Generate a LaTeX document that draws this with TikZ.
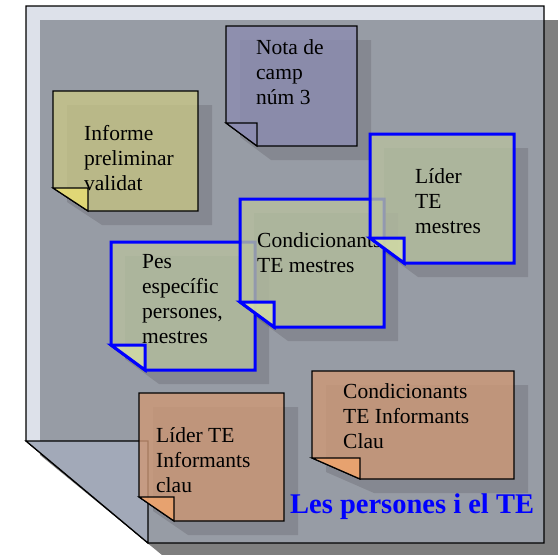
\documentclass[tikz,border=0pt]{standalone}
\usepackage{fontspec}
\setmainfont{Liberation Serif}
\usepackage{tikz}
\usetikzlibrary{backgrounds}

\definecolor{pagecol}{HTML}{B5BED1}
\definecolor{pageflap}{HTML}{A3ABBA}
\definecolor{purplenote}{HTML}{8C8CB1}
\definecolor{yellownote}{HTML}{C8C587}
\definecolor{yellowflap}{HTML}{EBE072}
\definecolor{greennote}{HTML}{B7C0A0}
\definecolor{greenflap}{HTML}{D5DEA6}
\definecolor{orangenote}{HTML}{CF9977}
\definecolor{orangeflap}{HTML}{F2A66D}

\begin{document}
\begin{tikzpicture}[x=1pt,y=-1pt,
  every node/.style={anchor=base west,inner sep=0pt,align=left,
    font=\fontsize{21.5}{25}\selectfont},
  shadow/.style={fill=black,fill opacity=0.12,draw=none,shift={(14,14)}},
  note/.style={draw=black,line width=1.2pt,fill opacity=0.8},
  bluenote/.style={draw=blue,line width=3pt,fill opacity=0.8}]

  \useasboundingbox (0,0) rectangle (558,555);

  % Specification of the page (shadow, sheet, folded corner)
  \fill[black,opacity=0.5] (40,20) -- (558,20) -- (558,555) -- (162,555) -- (40,455) -- cycle;
  \draw[fill=pagecol,fill opacity=0.46,line width=1.2pt] (26,6) -- (544,6) -- (544,543) -- (148,543) -- (26,441) -- cycle;
  \draw[fill=pageflap,fill opacity=0.9,line width=1.2pt] (26,441) -- (148,441) -- (148,543) -- cycle;

  % Nota de camp (texts sit on the baseline of their last line)
  \fill[shadow] (226,26) -- (357,26) -- (357,146) -- (257,146) -- (226,123) -- cycle;
  \draw[note,fill=purplenote] (226,26) -- (357,26) -- (357,146) -- (257,146) -- (226,123) -- cycle;
  \draw[note,fill=purplenote] (226,123) -- (257,123) -- (257,146) -- cycle;
  \node (nota) at (256,104) {Nota de\\camp\\núm 3};

  % Informe
  \fill[shadow] (53,91) -- (198,91) -- (198,211) -- (88,211) -- (53,188) -- cycle;
  \draw[note,fill=yellownote] (53,91) -- (198,91) -- (198,211) -- (88,211) -- (53,188) -- cycle;
  \draw[note,fill=yellowflap] (53,188) -- (88,188) -- (88,211) -- cycle;
  \node (informe) at (84,190) {Informe\\preliminar\\validat};

  % Pes especific
  \fill[shadow] (111,242) -- (255,242) -- (255,370) -- (145,370) -- (111,345) -- cycle;
  \draw[bluenote,fill=greennote] (111,242) -- (255,242) -- (255,370) -- (145,370) -- (111,345) -- cycle;
  \draw[bluenote,fill=greenflap] (111,345) -- (145,345) -- (145,370) -- cycle;
  \node (pes) at (142,343) {Pes\\específic\\persones,\\mestres};

  % Condicionants mestres
  \fill[shadow] (240,199) -- (384,199) -- (384,327) -- (274,327) -- (240,302) -- cycle;
  \draw[bluenote,fill=greennote] (240,199) -- (384,199) -- (384,327) -- (274,327) -- (240,302) -- cycle;
  \draw[bluenote,fill=greenflap] (240,302) -- (274,302) -- (274,327) -- cycle;
  \node (condmestres) at (257,272) {Condicionants\\TE mestres};

  % Lider mestres
  \fill[shadow] (370,134) -- (514,134) -- (514,263) -- (404,263) -- (370,238) -- cycle;
  \draw[bluenote,fill=greennote] (370,134) -- (514,134) -- (514,263) -- (404,263) -- (370,238) -- cycle;
  \draw[bluenote,fill=greenflap] (370,238) -- (404,238) -- (404,263) -- cycle;
  \node (lidermestres) at (415,233) {Líder\\TE\\mestres};

  % Lider informants
  \fill[shadow] (139,393) -- (284,393) -- (284,521) -- (174,521) -- (139,497) -- cycle;
  \draw[note,fill=orangenote] (139,393) -- (284,393) -- (284,521) -- (174,521) -- (139,497) -- cycle;
  \draw[note,fill=orangeflap] (139,497) -- (174,497) -- (174,521) -- cycle;
  \node (liderinf) at (156,492) {Líder TE\\Informants\\clau};

  % Condicionants informants
  \fill[shadow] (312,371) -- (514,371) -- (514,479) -- (360,479) -- (312,458) -- cycle;
  \draw[note,fill=orangenote] (312,371) -- (514,371) -- (514,479) -- (360,479) -- (312,458) -- cycle;
  \draw[note,fill=orangeflap] (312,458) -- (360,458) -- (360,479) -- cycle;
  \node (condinf) at (343,448) {Condicionants\\TE Informants\\Clau};

  \node[text=blue,font=\bfseries\fontsize{28.5}{34}\selectfont] (title) at (290,513) {Les persones i el TE};

\end{tikzpicture}
\end{document}
